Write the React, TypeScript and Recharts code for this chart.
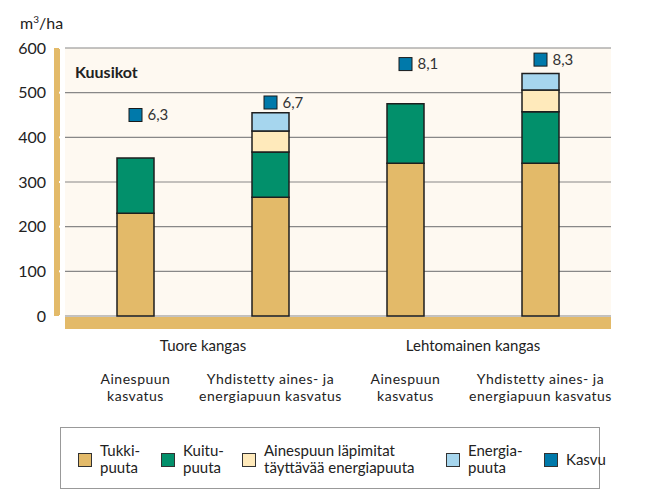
import { ComposedChart, Bar, Line, XAxis, YAxis, CartesianGrid, LabelList } from "recharts";

const groups = ["Tuore kangas", "Lehtomainen kangas"];
const catLine1 = ["Ainespuun", "Yhdistetty aines- ja", "Ainespuun", "Yhdistetty aines- ja"];
const catLine2 = ["kasvatus", "energiapuun kasvatus", "kasvatus", "energiapuun kasvatus"];
const catGroup = [0, 0, 1, 1];

// m3/ha, stacked from the bottom
const tukki = [230, 266, 342, 342];
const kuitu = [124, 101, 133, 115];
const tayttava = [0, 47, 0, 49];
const energia = [0, 41, 0, 37];

// growth (m3/ha/a) and where its marker sits on the y scale
const kasvu = [6.3, 6.7, 8.1, 8.3];
const kasvuPos = [450, 478, 564, 574];

const yTicks = [0, 100, 200, 300, 400, 500, 600];

const TAN = "#E3BA69";
const GREEN = "#02906B";
const PALE = "#FFEABB";
const SKY = "#A6D6EE";
const KASVU = "#0079AA";
const CREAM = "#FEF9F1";
const INK = "#222";

const legendItems = [
  { color: TAN, lines: ["Tukki-", "puuta"] },
  { color: GREEN, lines: ["Kuitu-", "puuta"] },
  { color: PALE, lines: ["Ainespuun läpimitat", "täyttävää energiapuuta"] },
  { color: SKY, lines: ["Energia-", "puuta"] },
  { color: KASVU, lines: ["Kasvu"] },
];
const legendLeft = [17, 100, 181, 385, 483];

const data = catLine1.map((l1, i) => ({
  name: groups[catGroup[i]] + " / " + l1 + " " + catLine2[i],
  tukki: tukki[i],
  kuitu: kuitu[i],
  tayttava: tayttava[i],
  energia: energia[i],
  kasvu: kasvu[i],
  kasvuPos: kasvuPos[i],
}));

const BAND = 135;

function CategoryTick(props: any) {
  const { x, y, payload } = props;
  const i = data.findIndex((d) => d.name === payload.value);
  if (i < 0) return null;
  const showGroup = i === 0 || catGroup[i] !== catGroup[i - 1];
  return (
    <g>
      {showGroup && (
        <text x={x + BAND / 2} y={y + 35} textAnchor="middle" fill={INK} fontSize={15}>
          {groups[catGroup[i]]}
        </text>
      )}
      <text x={x} y={y + 68} textAnchor="middle" fill={INK} fontSize={14} letterSpacing={0.5}>
        {catLine1[i]}
      </text>
      <text x={x} y={y + 85} textAnchor="middle" fill={INK} fontSize={14} letterSpacing={0.5}>
        {catLine2[i]}
      </text>
    </g>
  );
}

function KasvuDot(props: any) {
  const { cx, cy } = props;
  if (cx == null || cy == null) return null;
  return <rect x={cx - 6.5} y={cy - 6.5} width={13} height={13} fill={KASVU} stroke="#1a1a1a" strokeWidth={1} />;
}

export default function App() {
  return (
    <div style={{ position: "relative", width: 653, height: 494, fontFamily: "Lato, sans-serif", background: "#fff" }}>
      <style>{"body{margin:0}"}</style>
      <ComposedChart
        width={653}
        height={494}
        data={data}
        margin={{ top: 48, right: 42, bottom: 98, left: 0 }}
        barCategoryGap={0}
      >
        <CartesianGrid vertical={false} stroke="#888" strokeWidth={1.2} fill={CREAM} fillOpacity={1} />
        <XAxis
          dataKey="name"
          padding={{ left: 3, right: 3 }}
          height={80}
          tickLine={false}
          tickSize={0}
          tickMargin={0}
          interval={0}
          axisLine={{ stroke: TAN, strokeWidth: 12, transform: "translate(0,7)" }}
          tick={<CategoryTick />}
        />
        <YAxis
          domain={[0, 600]}
          ticks={yTicks}
          width={65}
          tickSize={6}
          tickMargin={13}
          tickLine={{ stroke: "#fff", strokeWidth: 2 }}
          axisLine={{ stroke: TAN, strokeWidth: 6, transform: "translate(-8,0)" }}
          tick={{ fill: INK, fontSize: 16 }}
        />
        <Bar dataKey="tukki" stackId="a" fill={TAN} stroke="#1e1e1e" strokeWidth={1.5} barSize={37} isAnimationActive={false} />
        <Bar dataKey="kuitu" stackId="a" fill={GREEN} stroke="#1e1e1e" strokeWidth={1.5} barSize={37} isAnimationActive={false} />
        <Bar dataKey="tayttava" stackId="a" fill={PALE} stroke="#1e1e1e" strokeWidth={1.5} barSize={37} isAnimationActive={false} />
        <Bar dataKey="energia" stackId="a" fill={SKY} stroke="#1e1e1e" strokeWidth={1.5} barSize={37} isAnimationActive={false} />
        <Line
          dataKey="kasvuPos"
          stroke="none"
          dot={<KasvuDot />}
          activeDot={false}
          legendType="none"
          isAnimationActive={false}
        >
          <LabelList
            dataKey="kasvu"
            position="right"
            offset={12}
            fill="#333"
            fontSize={15}
            formatter={(v: any) => String(v).replace(".", ",")}
          />
        </Line>
      </ComposedChart>

      <div style={{ position: "absolute", left: 20, top: 13, fontSize: 16, color: INK }}>
        m<sup style={{ fontSize: 10 }}>3</sup>/ha
      </div>
      <div style={{ position: "absolute", left: 75, top: 62, fontSize: 16, fontWeight: 700, color: INK }}>Kuusikot</div>

      <div
        style={{
          position: "absolute",
          left: 60,
          top: 427,
          width: 540,
          height: 62,
          border: "1px solid #999",
          boxSizing: "border-box",
        }}
      >
        {legendItems.map((it, i) => (
          <div key={i} style={{ position: "absolute", left: legendLeft[i], top: 0, height: 62, display: "flex", alignItems: "center" }}>
            <div style={{ width: 12, height: 12, background: it.color, border: "1px solid #333", marginRight: 8, marginTop: 1 }} />
            <div style={{ fontSize: 15, lineHeight: "17px", color: INK }}>
              {it.lines.map((l, j) => (
                <div key={j}>{l}</div>
              ))}
            </div>
          </div>
        ))}
      </div>
    </div>
  );
}
